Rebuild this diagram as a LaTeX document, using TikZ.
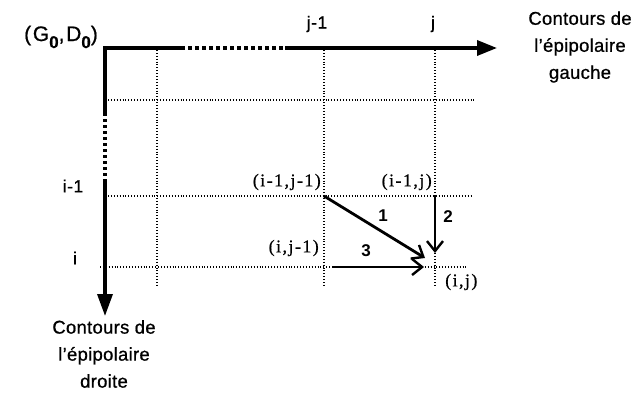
\documentclass[tikz,border=0pt]{standalone}
\usepackage{fontspec}
\setmainfont{Liberation Serif}
\setsansfont{Liberation Sans}
\usetikzlibrary{arrows.meta}
\begin{document}
\begin{tikzpicture}[x=1pt,y=-1pt,
  axis/.style={line width=3.4pt},
  axisdash/.style={line width=3.4pt,dash pattern=on 4pt off 3pt},
  grid/.style={line width=1.1pt,dash pattern=on 0.9pt off 2pt},
  move/.style={line width=2.8pt,-{Straight Barb[length=10pt,width=16pt,line width=2.4pt]}},
  side/.style={font=\sffamily\fontsize{18.5}{27}\selectfont\addfontfeatures{LetterSpace=1.5,FakeBold=0.8},align=center,inner sep=0pt},
  idx/.style={font=\sffamily\fontsize{17.5}{18}\selectfont\addfontfeatures{LetterSpace=3,FakeBold=0.8},inner sep=0pt},
  cell/.style={font=\fontsize{18}{18}\selectfont\addfontfeatures{LetterSpace=8,FakeBold=0.6},inner sep=0pt},
  num/.style={font=\sffamily\bfseries\fontsize{17}{18}\selectfont,inner sep=0pt}]
\useasboundingbox (0,0) rectangle (631,393);
% grid points
\coordinate (O) at (105,48);
\coordinate (h1) at (185,48);
\coordinate (h2) at (285,48);
\coordinate (htip) at (497,48);
\coordinate (v1) at (105,113);
\coordinate (v2) at (105,182);
\coordinate (vtip) at (105,316);
\coordinate (a) at (324,196);
\coordinate (b) at (435,196);
\coordinate (c) at (324,267);
\coordinate (d) at (435,267);
% dotted grid
\draw[grid] (157,50) -- (157,285);
\draw[grid] (324,50) -- (324,285);
\draw[grid] (435,50) -- (435,285);
\draw[grid] (108,100) -- (476,100);
\draw[grid] (108,196) -- (471,196);
\draw[grid] (100,267) -- (467,267);
% axes
\draw[axis] (h1) -- (O) -- (v1);
\draw[axisdash] (188,48) -- (h2);
\draw[axis,-{Triangle[length=20pt,width=15pt]}] (h2) -- (htip);
\draw[line width=3.4pt,dash pattern=on 3pt off 3pt] (v1) -- (v2);
\draw[axis,-{Triangle[length=22pt,width=15pt]}] (v2) -- (vtip);
% labels
\node[font=\sffamily\fontsize{21}{22}\selectfont\addfontfeatures{LetterSpace=8,FakeBold=0.8},anchor=east,inner sep=0pt] (g0) at (98,37)
  {(G\raisebox{-7pt}{\bfseries\fontsize{17}{18}\selectfont 0},D\raisebox{-7pt}{\bfseries\fontsize{17}{18}\selectfont 0})};
\node[idx] (jm1) at (317,24) {j-1};
\node[idx] (j) at (433,24) {j};
\node[idx] (im1) at (73,186) {i-1};
\node[idx] (i) at (75,258) {i};
\node[side] (gauche) at (580,47) {Contours de\\l'épipolaire\\gauche};
\node[side] (droite) at (104,354) {Contours de\\l'épipolaire\\droite};
\node[cell,anchor=east] (lab1) at (321,182) {(i-1,j-1)};
\node[cell,anchor=east] (lab2) at (432,182) {(i-1,j)};
\node[cell,anchor=east] (lab3) at (319,248) {(i,j-1)};
\node[cell,anchor=west] (lab4) at (445,282) {(i,j)};
% moves
\draw[move] (a) -- (425,258);
\draw[move] (b) -- (435,253);
\draw[move] (333,267) -- (424,267);
\node[num] (n1) at (383,216) {1};
\node[num] (n2) at (448,217) {2};
\node[num] (n3) at (366,251) {3};
\end{tikzpicture}
\end{document}
